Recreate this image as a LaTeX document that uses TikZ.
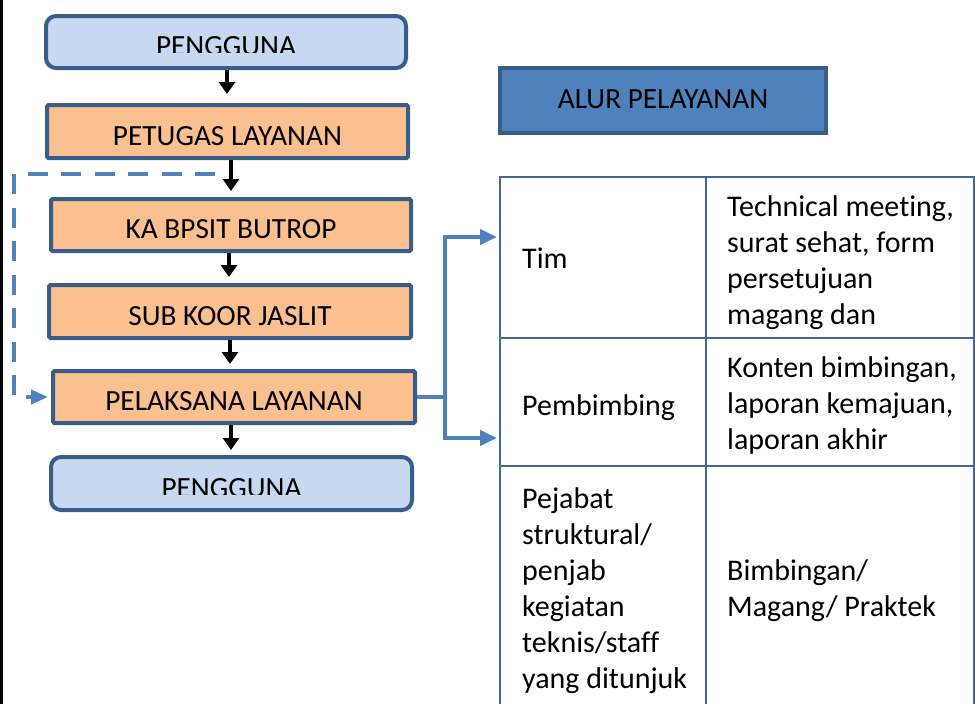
\documentclass[tikz,border=0pt]{standalone}
\usepackage{fontspec}
\setmainfont{Carlito}[Ligatures={NoCommon}]
\usetikzlibrary{arrows.meta}
\definecolor{bordc}{HTML}{385D8A}
\definecolor{lightc}{HTML}{C6D9F1}
\definecolor{orangec}{HTML}{FAC090}
\definecolor{accentc}{HTML}{4F81BD}
\definecolor{tablec}{HTML}{41689B}
\newcommand{\celltext}[1]{\parbox[t]{240pt}{\raggedright\fontsize{30}{36}\selectfont #1}}
\tikzset{
  boxfont/.style={font=\fontsize{29.3}{34}\selectfont},
  basebox/.style={draw=bordc, line width=4pt, inner sep=0pt, boxfont, text height=27pt, text depth=0pt},
  userbox/.style={basebox, fill=lightc, rounded corners=10pt},
  stepbox/.style={basebox, fill=orangec, rounded corners=1.5pt},
  boxtext/.style={inner sep=0pt, boxfont, text height=27pt, text depth=0pt},
  blkarrow/.style={black, line width=4.5pt, -{Triangle[length=12pt,width=16pt]}},
  bluearrow/.style={accentc, line width=4pt, -{Triangle[length=17pt,width=15pt]}},
  blueline/.style={accentc, line width=4pt},
  dashc/.style={accentc, line width=4pt, dash pattern=on 20pt off 13.5pt, -{Triangle[length=17pt,width=14pt]}},
  tline/.style={tablec, line width=2.5pt},
  celln/.style={anchor=base west, inner sep=0pt}
}
\begin{document}
\begin{tikzpicture}[x=1pt,y=-1pt]
\useasboundingbox[fill=white] (0,0) rectangle (975,704);
\draw[black, line width=3pt] (1.5,0) -- (1.5,704);

% flow boxes
\node[userbox, minimum width=360pt, minimum height=52pt] (b1) at (226,42) {};
\begin{scope}
  \clip (44,14) rectangle (408,52.5);
  \node[boxtext] (t1) at (b1.center) {PENGGUNA};
\end{scope}
\node[stepbox, minimum width=361pt, minimum height=53pt] (b2) at (227.5,131.5) {PETUGAS LAYANAN};
\node[stepbox, minimum width=360pt, minimum height=52pt] (b3) at (231,225) {KA BPSIT BUTROP};
\node[stepbox, minimum width=362pt, minimum height=53pt] (b4) at (230,311.5) {SUB KOOR JASLIT};
\node[stepbox, minimum width=362pt, minimum height=52pt] (b5) at (234,397) {PELAKSANA LAYANAN};
\node[userbox, minimum width=361pt, minimum height=53pt] (b6) at (231.5,483.5) {};
\begin{scope}
  \clip (49,455) rectangle (414,494);
  \node[boxtext] (t6) at (b6.center) {PENGGUNA};
\end{scope}

% title box
\node[draw=bordc, fill=accentc, line width=4pt, inner sep=0pt, boxfont, text height=15pt, text depth=0pt,
      minimum width=326pt, minimum height=65pt] (title) at (663,100.5) {ALUR PELAYANAN};

% black arrows
\draw[blkarrow, shorten >=9pt] ([xshift=1pt]b1.south) -- ([xshift=-0.5pt]b2.north);
\draw[blkarrow, shorten >=6pt] ([xshift=3.5pt]b2.south) -- ([xshift=0pt]b3.north);
\draw[blkarrow, shorten >=6pt] ([xshift=-2pt]b3.south) -- ([xshift=-1pt]b4.north);
\draw[blkarrow, shorten >=5pt] ([xshift=0pt]b4.south) -- ([xshift=-4pt]b5.north);
\draw[blkarrow, shorten >=5pt] ([xshift=-3pt]b5.south) -- ([xshift=-0.5pt]b6.north);

% dashed feedback
\coordinate (dstart) at (215,174);
\draw[dashc, shorten >=3pt] (dstart) -- (14,174) |- (b5.west);

% table
\coordinate (tA) at (500,177);
\coordinate (tB) at (706,177);
\coordinate (tC) at (974,177);
\draw[tline] (500,704) -- (tA) -- (tC) -- (974,704);
\draw[tline] (tB) -- (706,704);
\draw[tline] (500,338) -- (974,338);
\draw[tline] (500,466) -- (974,466);
\coordinate (tl) at (500,237);
\coordinate (bl) at (500,438);

% blue connectors
\coordinate (split) at (445,397);
\draw[blueline] (b5.east) -- (split);
\draw[bluearrow, shorten >=3pt] (split) |- (tl);
\draw[bluearrow, shorten >=3pt] (split) |- (bl);

% table texts
\node[celln] (c11) at (522,268) {\celltext{Tim}};
\node[celln] (c12) at (727,216) {\celltext{Technical meeting,\\surat sehat, form\\persetujuan\\magang dan}};
\node[celln] (c21) at (522,415) {\celltext{Pembimbing}};
\node[celln] (c22) at (727,377) {\celltext{Konten bimbingan,\\laporan kemajuan,\\laporan akhir}};
\node[celln] (c31) at (522,508) {\celltext{Pejabat\\struktural/\\penjab\\kegiatan\\teknis/staff\\yang ditunjuk}};
\node[celln] (c32) at (727,580) {\celltext{Bimbingan/\\Magang/ Praktek}};
\end{tikzpicture}
\end{document}
